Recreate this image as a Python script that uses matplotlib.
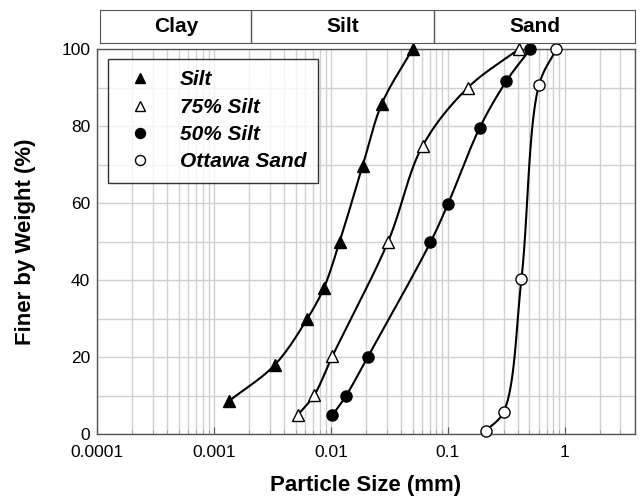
import numpy as np
import matplotlib
matplotlib.use("Agg")
import matplotlib.pyplot as plt
from matplotlib.ticker import LogLocator, FixedLocator, NullFormatter

plt.rcParams['font.family'] = ['Liberation Sans', 'DejaVu Sans']

# grain size distributions (mm, % finer)
silt_d = [0.00135, 0.0033, 0.0063, 0.0087, 0.0119, 0.0187, 0.0273, 0.050]
silt_p = [8.6, 17.9, 30.0, 37.9, 50.0, 69.7, 85.8, 100.0]

silt75_d = [0.0052, 0.0072, 0.0103, 0.0309, 0.0608, 0.149, 0.407]
silt75_p = [4.9, 10.1, 20.2, 50.0, 74.8, 90.0, 100.0]

silt50_d = [0.0103, 0.0134, 0.0206, 0.0711, 0.1006, 0.188, 0.318, 0.509]
silt50_p = [4.9, 9.8, 19.9, 49.8, 59.8, 79.6, 91.7, 100.0]

ottawa_d = [0.211, 0.301, 0.427, 0.603, 0.85]
ottawa_p = [0.8, 5.8, 40.3, 90.6, 100.0]

zone_names = ['Clay', 'Silt', 'Sand']
zone_edges = [0.0001, 0.002, 0.075, 4]


def smooth(d, p, n=30):
    # centripetal catmull-rom through the points, in log-x space
    x = np.log10(d) * 30.0
    y = np.asarray(p, float)
    P = np.column_stack([x, y])
    P = np.vstack([2 * P[0] - P[1], P, 2 * P[-1] - P[-2]])
    out = []
    for i in range(1, len(P) - 2):
        p0, p1, p2, p3 = P[i - 1], P[i], P[i + 1], P[i + 2]
        t0 = 0
        t1 = t0 + np.linalg.norm(p1 - p0) ** 0.5
        t2 = t1 + np.linalg.norm(p2 - p1) ** 0.5
        t3 = t2 + np.linalg.norm(p3 - p2) ** 0.5
        t = np.linspace(t1, t2, n)[:, None]
        a1 = (t1 - t) / (t1 - t0) * p0 + (t - t0) / (t1 - t0) * p1
        a2 = (t2 - t) / (t2 - t1) * p1 + (t - t1) / (t2 - t1) * p2
        a3 = (t3 - t) / (t3 - t2) * p2 + (t - t2) / (t3 - t2) * p3
        b1 = (t2 - t) / (t2 - t0) * a1 + (t - t0) / (t2 - t0) * a2
        b2 = (t3 - t) / (t3 - t1) * a2 + (t - t1) / (t3 - t1) * a3
        c = (t2 - t) / (t2 - t1) * b1 + (t - t1) / (t2 - t1) * b2
        out.append(c)
    c = np.vstack(out)
    return 10 ** (c[:, 0] / 30.0), c[:, 1]


fig = plt.figure(figsize=(6.43, 5.0), dpi=100)
ax = fig.add_axes([0.151, 0.132, 0.8366, 0.770])
top = fig.add_axes([0.156, 0.914, 0.8316, 0.066])

series = [
    (silt_d, silt_p, '^', 'k', 'Silt'),
    (silt75_d, silt75_p, '^', 'w', '75% Silt'),
    (silt50_d, silt50_p, 'o', 'k', '50% Silt'),
    (ottawa_d, ottawa_p, 'o', 'w', 'Ottawa Sand'),
]
for d, p, m, fc, lab in series:
    sx, sy = smooth(d, p)
    ax.plot(sx, sy, color='k', lw=1.5, zorder=3, clip_on=False)
    ax.plot(d, p, ls='none', marker=m, ms=8, mfc=fc, mec='k', mew=1.0,
            label=lab, zorder=4, clip_on=False)

ax.set_xscale('log')
ax.set_xlim(0.0001, 4)
ax.set_ylim(0, 100)
ax.set_xticks([0.0001, 0.001, 0.01, 0.1, 1])
ax.set_xticklabels(['0.0001', '0.001', '0.01', '0.1', '1'])
ax.xaxis.set_minor_locator(LogLocator(base=10, subs=np.arange(2, 10)))
ax.xaxis.set_minor_formatter(NullFormatter())
ax.set_yticks([0, 20, 40, 60, 80, 100])
ax.yaxis.set_minor_locator(FixedLocator([10, 30, 50, 70, 90]))
ax.grid(True, which='both', color='#d0d0d0', lw=1.0)
ax.set_axisbelow(True)
ax.tick_params(which='both', direction='in', labelsize=12.5)
ax.tick_params(axis='x', which='both', pad=8)
ax.tick_params(which='major', length=5, color='#555555')
ax.tick_params(axis='x', which='minor', length=3, color='#999999')
ax.tick_params(axis='y', which='both', length=0, pad=5)
for s in ax.spines.values():
    s.set_color('#555555')
    s.set_linewidth(1.0)

ax.set_xlabel('Particle Size (mm)', fontsize=16, fontweight='bold', labelpad=11)
ax.set_ylabel('Finer by Weight (%)', fontsize=16, fontweight='bold', labelpad=18)

leg = ax.legend(loc='upper left', bbox_to_anchor=(0.02, 0.974), borderaxespad=0,
                frameon=True, fancybox=False, edgecolor='k', handletextpad=0.9,
                borderpad=0.55, labelspacing=0.4, markerscale=0.9,
                prop={'weight': 'bold', 'style': 'italic', 'size': 15})
leg.get_frame().set_linewidth(1.0)

# soil classification band
top.set_xscale('log')
top.set_xlim(zone_edges[0], zone_edges[-1])
top.set_ylim(0, 1)
for e in zone_edges[1:-1]:
    top.axvline(e, color='#555555', lw=1.0)
for i, name in enumerate(zone_names):
    xc = np.sqrt(zone_edges[i] * zone_edges[i + 1])
    top.text(xc, 0.5, name, ha='center', va='center', fontsize=15, fontweight='bold')
top.set_xticks([])
top.set_yticks([])
top.minorticks_off()
for s in top.spines.values():
    s.set_color('#555555')

fig.savefig('out.png', dpi=100)
